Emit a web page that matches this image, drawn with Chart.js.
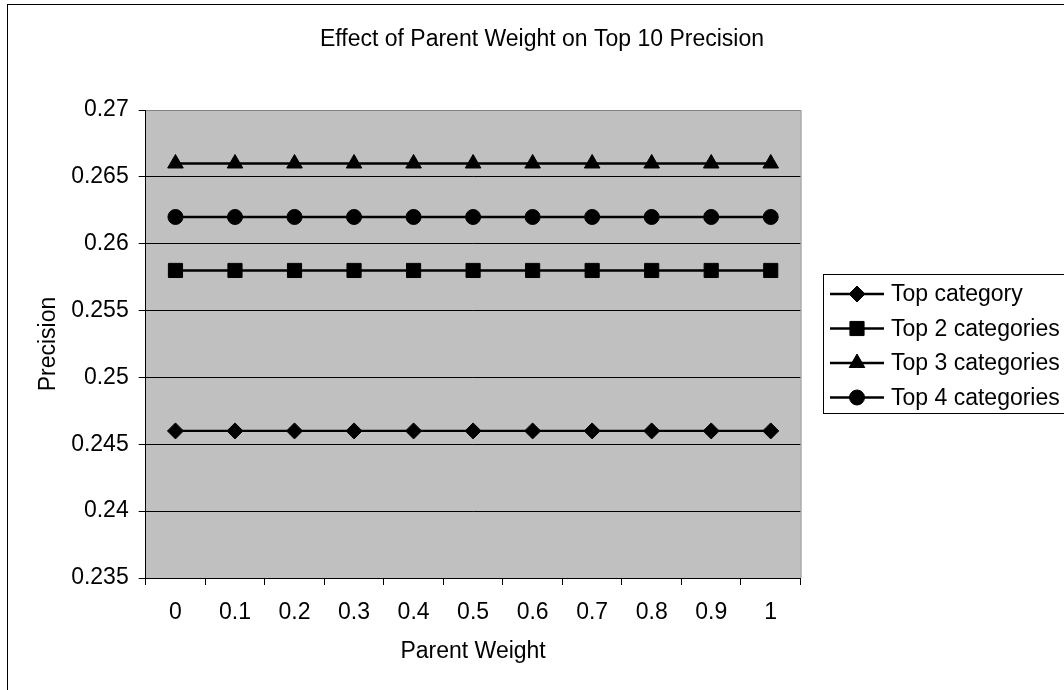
<!DOCTYPE html>
<html>
<head>
<meta charset="utf-8">
<script src="https://cdn.jsdelivr.net/npm/chart.js@4.4.0/dist/chart.umd.min.js"></script>
<style>
  html, body { margin: 0; padding: 0; background: #fff; overflow: hidden; width: 1064px; height: 690px; }
  #wrap { position: absolute; left: 7px; top: 4px; width: 1070px; height: 700px; border: 1px solid #000; background: #fff; }
  canvas { display: block; }
</style>
</head>
<body>
<div id="wrap"><canvas id="c" width="1070" height="690"></canvas></div>
<script>
// ---- data ----
const categories = ["0", "0.1", "0.2", "0.3", "0.4", "0.5", "0.6", "0.7", "0.8", "0.9", "1"];
const topCategory      = [0.246, 0.246, 0.246, 0.246, 0.246, 0.246, 0.246, 0.246, 0.246, 0.246, 0.246];
const top2Categories   = [0.258, 0.258, 0.258, 0.258, 0.258, 0.258, 0.258, 0.258, 0.258, 0.258, 0.258];
const top3Categories   = [0.266, 0.266, 0.266, 0.266, 0.266, 0.266, 0.266, 0.266, 0.266, 0.266, 0.266];
const top4Categories   = [0.262, 0.262, 0.262, 0.262, 0.262, 0.262, 0.262, 0.262, 0.262, 0.262, 0.262];
const seriesNames = ["Top category", "Top 2 categories", "Top 3 categories", "Top 4 categories"];
const yMin = 0.235, yMax = 0.27, yStep = 0.005;
const chartTitle = "Effect of Parent Weight on Top 10 Precision";
const xTitle = "Parent Weight";
const yTitle = "Precision";

const FONT = "'Liberation Sans', Arial, Helvetica, sans-serif";
const FS = 23;
Chart.defaults.font.family = FONT;
Chart.defaults.font.size = FS;
Chart.defaults.color = '#000';

function mkSet(label, data, style, radius) {
  return {
    label, data,
    borderColor: '#000', backgroundColor: '#000', borderWidth: 2.4,
    pointStyle: style, pointRadius: radius, pointHoverRadius: radius,
    pointBackgroundColor: '#000', pointBorderColor: '#000', pointBorderWidth: 1,
    tension: 0, fill: false
  };
}

const plotBg = {
  id: 'plotBg',
  beforeDraw(chart) {
    const {ctx, chartArea: a} = chart;
    ctx.save();
    ctx.fillStyle = '#C0C0C0';
    ctx.fillRect(a.left, a.top, a.right - a.left, a.bottom - a.top);
    ctx.restore();
  },
  beforeDatasetsDraw(chart) {
    const {ctx, chartArea: a} = chart;
    ctx.save();
    ctx.strokeStyle = '#808080';
    ctx.lineWidth = 1;
    ctx.beginPath();
    ctx.moveTo(a.right + 0.5, a.top);
    ctx.lineTo(a.right + 0.5, a.bottom);
    ctx.stroke();
    ctx.restore();
  },
  afterDraw(chart) {
    const {ctx} = chart;
    ctx.save();
    ctx.fillStyle = '#000';
    ctx.font = FS + "px " + FONT;
    ctx.textAlign = 'center';
    ctx.textBaseline = 'alphabetic';
    ctx.fillText(chartTitle, 534, 40.5);
    ctx.restore();
  }
};

function drawMarker(ctx, ds, x, y) {
  ctx.fillStyle = ds.pointBackgroundColor;
  ctx.strokeStyle = ds.pointBorderColor;
  ctx.lineWidth = ds.pointBorderWidth;
  if (Chart.helpers && Chart.helpers.drawPoint) {
    Chart.helpers.drawPoint(ctx, {pointStyle: ds.pointStyle, radius: ds.pointRadius, rotation: 0, borderWidth: ds.pointBorderWidth}, x, y);
  } else {
    ctx.beginPath();
    ctx.arc(x, y, ds.pointRadius, 0, Math.PI * 2);
    ctx.fill();
  }
}

const customLegend = {
  id: 'customLegend',
  afterDraw(chart) {
    const {ctx} = chart;
    const left = 815.5, top = 269.5, bottom = 408.5, right = 1100;
    const rowY0 = 289, rowH = 34.5;
    ctx.save();
    ctx.fillStyle = '#fff';
    ctx.fillRect(left, top, right - left, bottom - top);
    ctx.strokeStyle = '#000';
    ctx.lineWidth = 1;
    ctx.strokeRect(left, top, right - left, bottom - top);
    chart.data.datasets.forEach((ds, i) => {
      const y = rowY0 + i * rowH;
      ctx.strokeStyle = '#000';
      ctx.lineWidth = ds.borderWidth;
      ctx.beginPath();
      ctx.moveTo(822, y);
      ctx.lineTo(876, y);
      ctx.stroke();
      drawMarker(ctx, ds, 849, y);
      ctx.fillStyle = '#000';
      ctx.font = FS + "px " + FONT;
      ctx.textAlign = 'left';
      ctx.textBaseline = 'middle';
      ctx.fillText(ds.label, 883, y + 1);
    });
    ctx.restore();
  }
};

new Chart(document.getElementById('c'), {
  type: 'line',
  data: {
    labels: categories,
    datasets: [
      mkSet(seriesNames[0], topCategory, 'rectRot', 8),
      mkSet(seriesNames[1], top2Categories, 'rect', 10),
      mkSet(seriesNames[2], top3Categories, 'triangle', 9),
      mkSet(seriesNames[3], top4Categories, 'circle', 7.5)
    ]
  },
  options: {
    responsive: false,
    animation: false,
    devicePixelRatio: 1,
    layout: { padding: { left: 0, right: 277.5, top: 105, bottom: 0 } },
    plugins: {
      legend: { display: false },
      tooltip: { enabled: false },
      title: { display: false }
    },
    scales: {
      x: {
        type: 'category',
        offset: true,
        afterFit(scale) { scale.height = 117; },
        grid: { offset: true, drawOnChartArea: false, drawTicks: true, tickLength: 7, color: '#000', tickColor: '#000' },
        border: { display: true, color: '#000', width: 1 },
        ticks: { padding: 14, color: '#000', font: { size: FS }, maxRotation: 0, autoSkip: false },
        title: { display: true, text: xTitle, color: '#000', font: { size: FS }, padding: { top: 0, bottom: 30 } }
      },
      y: {
        min: yMin, max: yMax,
        afterFit(scale) { scale.width = 137.7; },
        grid: {
          drawTicks: true, tickLength: 7,
          color: (c) => (c.tick && Math.abs(c.tick.value - yMax) < 1e-9) ? '#808080' : '#000',
          tickColor: '#000', lineWidth: 1
        },
        border: { display: true, color: '#000', width: 1 },
        ticks: {
          stepSize: yStep, padding: 10, color: '#000', font: { size: FS },
          callback: (v) => String(parseFloat(Number(v).toFixed(3)))
        },
        title: { display: true, text: yTitle, color: '#000', font: { size: FS }, padding: { top: 27, bottom: 0 } }
      }
    }
  },
  plugins: [plotBg, customLegend]
});
</script>
</body>
</html>
